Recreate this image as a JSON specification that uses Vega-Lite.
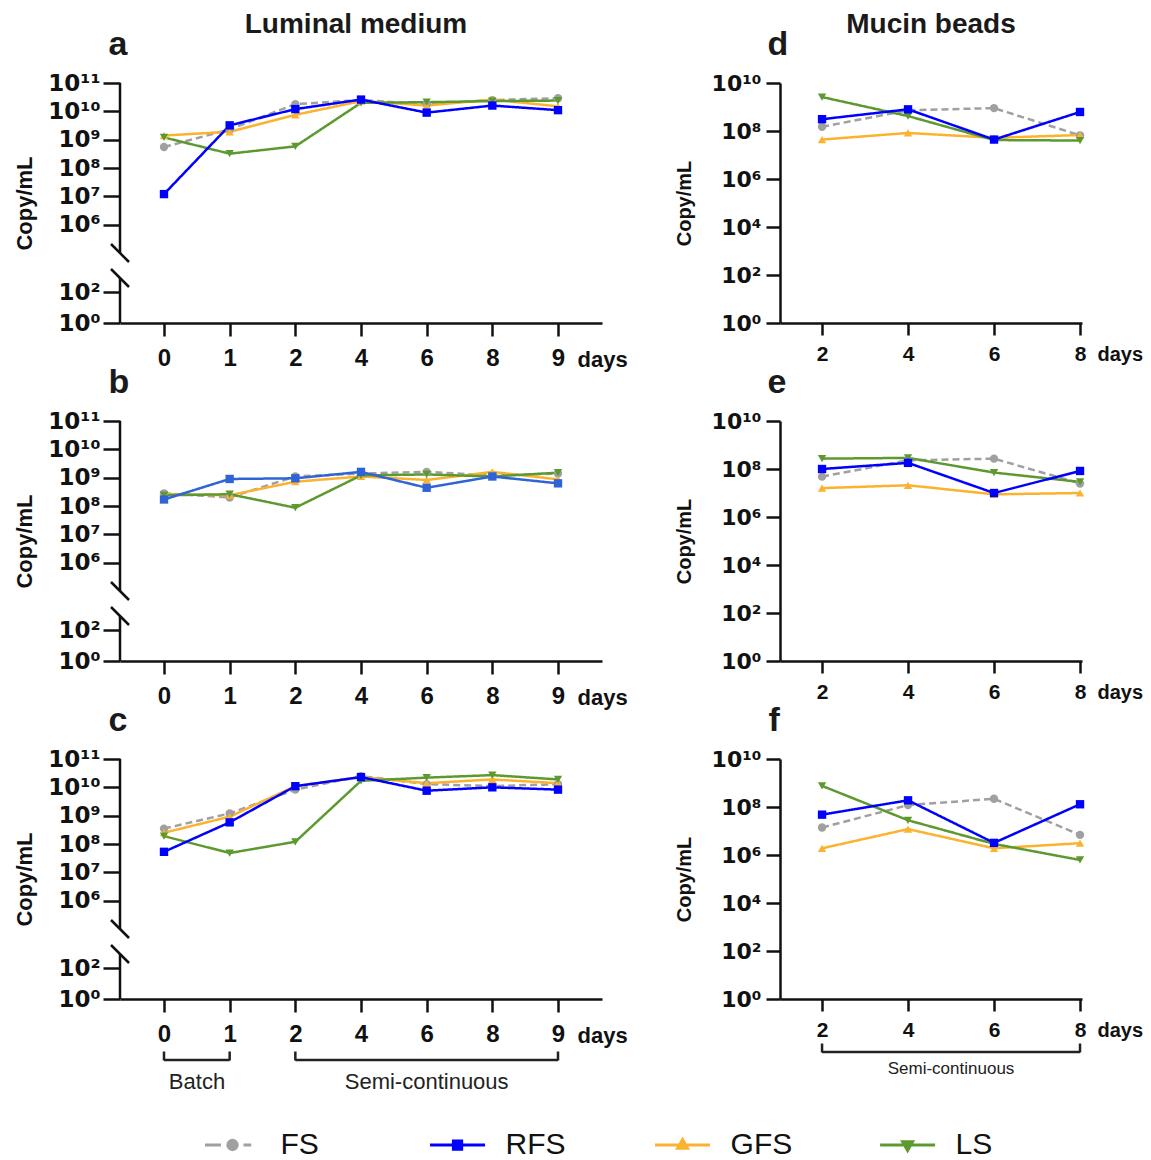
{
  "$schema": "https://vega.github.io/schema/vega-lite/v6.json",
  "padding": {"left": 12, "top": 11, "right": 5, "bottom": 5},
  "background": "white",
  "config": {
    "view": {"stroke": null},
    "font": "Liberation Sans",
    "axis": {"grid": false, "domainColor": "#111111", "tickColor": "#111111", "labelColor": "#111111", "titleColor": "#111111"},
    "title": {"color": "#1a1a1a", "fontWeight": "bold", "font": "Liberation Sans"}
  },
  "datasets": {
    "lum": [
      {"panel":"a","series":"FS","day":"0","value":550000000},{"panel":"a","series":"FS","day":"1","value":2300000000},{"panel":"a","series":"FS","day":"2","value":18000000000},{"panel":"a","series":"FS","day":"4","value":25000000000},{"panel":"a","series":"FS","day":"6","value":18000000000},{"panel":"a","series":"FS","day":"8","value":25000000000},{"panel":"a","series":"FS","day":"9","value":29000000000},
      {"panel":"a","series":"GFS","day":"0","value":1400000000},{"panel":"a","series":"GFS","day":"1","value":1900000000},{"panel":"a","series":"GFS","day":"2","value":7500000000},{"panel":"a","series":"GFS","day":"4","value":23000000000},{"panel":"a","series":"GFS","day":"6","value":16000000000},{"panel":"a","series":"GFS","day":"8","value":26000000000},{"panel":"a","series":"GFS","day":"9","value":15000000000},
      {"panel":"a","series":"LS","day":"0","value":1200000000},{"panel":"a","series":"LS","day":"1","value":320000000},{"panel":"a","series":"LS","day":"2","value":580000000},{"panel":"a","series":"LS","day":"4","value":20000000000},{"panel":"a","series":"LS","day":"6","value":21000000000},{"panel":"a","series":"LS","day":"8","value":23000000000},{"panel":"a","series":"LS","day":"9","value":24000000000},
      {"panel":"a","series":"RFS","day":"0","value":12000000},{"panel":"a","series":"RFS","day":"1","value":3200000000},{"panel":"a","series":"RFS","day":"2","value":12000000000},{"panel":"a","series":"RFS","day":"4","value":26000000000},{"panel":"a","series":"RFS","day":"6","value":9000000000},{"panel":"a","series":"RFS","day":"8","value":16000000000},{"panel":"a","series":"RFS","day":"9","value":11000000000},
      {"panel":"b","series":"FS","day":"0","value":280000000},{"panel":"b","series":"FS","day":"1","value":200000000},{"panel":"b","series":"FS","day":"2","value":1100000000},{"panel":"b","series":"FS","day":"4","value":1400000000},{"panel":"b","series":"FS","day":"6","value":1600000000},{"panel":"b","series":"FS","day":"8","value":1200000000},{"panel":"b","series":"FS","day":"9","value":1400000000},
      {"panel":"b","series":"GFS","day":"0","value":260000000},{"panel":"b","series":"GFS","day":"1","value":240000000},{"panel":"b","series":"GFS","day":"2","value":720000000},{"panel":"b","series":"GFS","day":"4","value":1100000000},{"panel":"b","series":"GFS","day":"6","value":830000000},{"panel":"b","series":"GFS","day":"8","value":1600000000},{"panel":"b","series":"GFS","day":"9","value":870000000},
      {"panel":"b","series":"LS","day":"0","value":240000000},{"panel":"b","series":"LS","day":"1","value":260000000},{"panel":"b","series":"LS","day":"2","value":87000000},{"panel":"b","series":"LS","day":"4","value":1200000000},{"panel":"b","series":"LS","day":"6","value":1300000000},{"panel":"b","series":"LS","day":"8","value":1100000000},{"panel":"b","series":"LS","day":"9","value":1500000000},
      {"panel":"b","series":"RFS","day":"0","value":170000000},{"panel":"b","series":"RFS","day":"1","value":900000000},{"panel":"b","series":"RFS","day":"2","value":950000000},{"panel":"b","series":"RFS","day":"4","value":1600000000},{"panel":"b","series":"RFS","day":"6","value":440000000},{"panel":"b","series":"RFS","day":"8","value":1100000000},{"panel":"b","series":"RFS","day":"9","value":630000000},
      {"panel":"c","series":"FS","day":"0","value":350000000},{"panel":"c","series":"FS","day":"1","value":1200000000},{"panel":"c","series":"FS","day":"2","value":8300000000},{"panel":"c","series":"FS","day":"4","value":25000000000},{"panel":"c","series":"FS","day":"6","value":13000000000},{"panel":"c","series":"FS","day":"8","value":11000000000},{"panel":"c","series":"FS","day":"9","value":13000000000},
      {"panel":"c","series":"GFS","day":"0","value":250000000},{"panel":"c","series":"GFS","day":"1","value":920000000},{"panel":"c","series":"GFS","day":"2","value":11000000000},{"panel":"c","series":"GFS","day":"4","value":23000000000},{"panel":"c","series":"GFS","day":"6","value":14000000000},{"panel":"c","series":"GFS","day":"8","value":19000000000},{"panel":"c","series":"GFS","day":"9","value":14000000000},
      {"panel":"c","series":"LS","day":"0","value":190000000},{"panel":"c","series":"LS","day":"1","value":48000000},{"panel":"c","series":"LS","day":"2","value":120000000},{"panel":"c","series":"LS","day":"4","value":17000000000},{"panel":"c","series":"LS","day":"6","value":22000000000},{"panel":"c","series":"LS","day":"8","value":27000000000},{"panel":"c","series":"LS","day":"9","value":19000000000},
      {"panel":"c","series":"RFS","day":"0","value":53000000},{"panel":"c","series":"RFS","day":"1","value":580000000},{"panel":"c","series":"RFS","day":"2","value":11000000000},{"panel":"c","series":"RFS","day":"4","value":23000000000},{"panel":"c","series":"RFS","day":"6","value":7600000000},{"panel":"c","series":"RFS","day":"8","value":10000000000},{"panel":"c","series":"RFS","day":"9","value":8300000000}
    ],
    "muc": [
      {"panel":"d","series":"FS","day":"2","value":150000000},{"panel":"d","series":"FS","day":"4","value":730000000},{"panel":"d","series":"FS","day":"6","value":900000000},{"panel":"d","series":"FS","day":"8","value":66000000},
      {"panel":"d","series":"GFS","day":"2","value":44000000},{"panel":"d","series":"GFS","day":"4","value":83000000},{"panel":"d","series":"GFS","day":"6","value":52000000},{"panel":"d","series":"GFS","day":"8","value":68000000},
      {"panel":"d","series":"LS","day":"2","value":2600000000},{"panel":"d","series":"LS","day":"4","value":420000000},{"panel":"d","series":"LS","day":"6","value":42000000},{"panel":"d","series":"LS","day":"8","value":40000000},
      {"panel":"d","series":"RFS","day":"2","value":310000000},{"panel":"d","series":"RFS","day":"4","value":800000000},{"panel":"d","series":"RFS","day":"6","value":44000000},{"panel":"d","series":"RFS","day":"8","value":620000000},
      {"panel":"e","series":"FS","day":"2","value":48000000},{"panel":"e","series":"FS","day":"4","value":230000000},{"panel":"e","series":"FS","day":"6","value":270000000},{"panel":"e","series":"FS","day":"8","value":25000000},
      {"panel":"e","series":"GFS","day":"2","value":16000000},{"panel":"e","series":"GFS","day":"4","value":21000000},{"panel":"e","series":"GFS","day":"6","value":8800000},{"panel":"e","series":"GFS","day":"8","value":10000000},
      {"panel":"e","series":"LS","day":"2","value":270000000},{"panel":"e","series":"LS","day":"4","value":290000000},{"panel":"e","series":"LS","day":"6","value":71000000},{"panel":"e","series":"LS","day":"8","value":29000000},
      {"panel":"e","series":"RFS","day":"2","value":100000000},{"panel":"e","series":"RFS","day":"4","value":180000000},{"panel":"e","series":"RFS","day":"6","value":10000000},{"panel":"e","series":"RFS","day":"8","value":83000000},
      {"panel":"f","series":"FS","day":"2","value":14000000},{"panel":"f","series":"FS","day":"4","value":120000000},{"panel":"f","series":"FS","day":"6","value":220000000},{"panel":"f","series":"FS","day":"8","value":6900000},
      {"panel":"f","series":"GFS","day":"2","value":1900000},{"panel":"f","series":"GFS","day":"4","value":12000000},{"panel":"f","series":"GFS","day":"6","value":1900000},{"panel":"f","series":"GFS","day":"8","value":3100000},
      {"panel":"f","series":"LS","day":"2","value":760000000},{"panel":"f","series":"LS","day":"4","value":28000000},{"panel":"f","series":"LS","day":"6","value":2900000},{"panel":"f","series":"LS","day":"8","value":620000},
      {"panel":"f","series":"RFS","day":"2","value":48000000},{"panel":"f","series":"RFS","day":"4","value":190000000},{"panel":"f","series":"RFS","day":"6","value":3200000},{"panel":"f","series":"RFS","day":"8","value":130000000}
    ],
    "axisline": [{"pos": 0, "lo": 100000, "hi": 100000000000}, {"pos": 0, "lo": 1, "hi": 851}],
    "breaks": [{"pos": 0, "value": 100000}, {"pos": 0, "value": 851}]
  },
  "columns": 2,
  "bounds": "flush",
  "align": "each",
  "spacing": {"row": 98, "column": 178},
  "resolve": {"scale": {"color": "independent"}},
  "concat": [
    {
      "width": 482, "height": 240,
      "title": {"text": "Luminal medium", "anchor": "middle", "frame": "group", "fontSize": 28, "dx": -5, "offset": -34, "baseline": "alphabetic"},
      "layer": [
        {"data": {"name": "lum"}, "transform": [{"filter": "datum.panel == 'a'"}], "mark": {"type": "line", "strokeWidth": 2.5},
         "encoding": {
           "x": {"field": "day", "type": "ordinal", "scale": {"type": "point", "domain": ["0","1","2","4","6","8","9"], "padding": 0.67},
                 "axis": {"title": "days", "titleX": 457, "titleY": 43, "titleAlign": "left", "titleBaseline": "alphabetic", "titleFontSize": 22, "titleFontWeight": "bold", "labelFontSize": 24, "labelFontWeight": "bold", "labelAngle": 0, "labelPadding": 10, "tickSize": 13, "tickWidth": 2.5, "domainWidth": 2.5}},
           "y": {"field": "value", "type": "quantitative", "title": "Copy/mL", "scale": {"type": "log", "domain": [1, 851, 100000, 100000000000], "range": [240, 195, 170, 0], "nice": false},
                 "axis": {"values": [1, 100, 1000000,10000000,100000000,1000000000,10000000000,100000000000], "labelExpr": "datum.value > 50000000000 ? '10¹¹' : datum.value > 5000000000 ? '10¹⁰' : datum.value > 500000000 ? '10⁹' : datum.value > 50000000 ? '10⁸' : datum.value > 5000000 ? '10⁷' : datum.value > 500000 ? '10⁶' : datum.value > 50 ? '10²' : '10⁰'", "domain": false, "labelFont": "DejaVu Sans", "labelFontSize": 23, "labelFontWeight": "bold", "labelPadding": 3, "labelOverlap": false, "labelFlush": false, "tickSize": 17, "tickWidth": 2.5, "title": "Copy/mL", "titleFontSize": 22, "titleFontWeight": "bold", "titleX": -96, "titleY": 120, "titleAngle": -90, "titleAlign": "center", "titleBaseline": "middle"}},
           "color": {"field": "series", "type": "nominal", "scale": {"domain": ["FS","RFS","GFS","LS"], "range": ["#A0A0A0","#0000FF","#FBB22E","#5C9A2F"]}, "legend": null},
           "strokeDash": {"field": "series", "type": "nominal", "scale": {"domain": ["FS","RFS","GFS","LS"], "range": [[7,4],[1,0],[1,0],[1,0]]}, "legend": null}
         }},
        {"data": {"name": "lum"}, "transform": [{"filter": "datum.panel == 'a'"}], "mark": {"type": "point", "filled": true, "size": 70, "opacity": 1},
         "encoding": {
           "x": {"field": "day", "type": "ordinal", "scale": {"type": "point", "domain": ["0","1","2","4","6","8","9"], "padding": 0.67}, "axis": null},
           "y": {"field": "value", "type": "quantitative", "title": "Copy/mL"},
           "color": {"field": "series", "type": "nominal", "scale": {"domain": ["FS","RFS","GFS","LS"], "range": ["#A0A0A0","#0000FF","#FBB22E","#5C9A2F"]}, "legend": null},
           "shape": {"field": "series", "type": "nominal", "scale": {"domain": ["FS","RFS","GFS","LS"], "range": ["circle","square","triangle-up","triangle-down"]}, "legend": null}
         }},
        {"data": {"name": "axisline"}, "mark": {"type": "rule", "strokeWidth": 2.5, "color": "#111111"},
         "encoding": {
           "x": {"field": "pos", "type": "quantitative", "scale": {"domain": [0, 1], "nice": false, "zero": false},
                 "axis": {"orient": "top", "domain": false, "ticks": false, "labels": false, "title": "a", "titleX": -12, "titleY": -29, "titleAlign": "left", "titleBaseline": "alphabetic", "titleAngle": 0, "titleFontSize": 34, "titleFontWeight": "bold", "titleColor": "#1a1a1a"}},
           "y": {"field": "lo", "type": "quantitative", "title": "Copy/mL"}, "y2": {"field": "hi"}
         }},
        {"data": {"name": "breaks"}, "mark": {"type": "point", "shape": "M-1,-1L1,1", "filled": false, "size": 324, "color": "#111111", "strokeWidth": 2.5, "opacity": 1},
         "encoding": {"x": {"field": "pos", "type": "quantitative", "scale": {"domain": [0, 1], "nice": false, "zero": false}, "axis": null}, "y": {"field": "value", "type": "quantitative", "title": "Copy/mL"}}}
      ],
      "resolve": {"scale": {"x": "independent"}, "axis": {"x": "independent"}}
    },
    {
      "width": 302, "height": 240,
      "title": {"text": "Mucin beads", "anchor": "middle", "frame": "group", "fontSize": 28, "offset": -34, "baseline": "alphabetic"},
      "layer": [
        {"data": {"name": "muc"}, "transform": [{"filter": "datum.panel == 'd'"}], "mark": {"type": "line", "strokeWidth": 2.5},
         "encoding": {
           "x": {"field": "day", "type": "ordinal", "scale": {"type": "point", "domain": ["2","4","6","8"], "padding": 0.256, "align": 0.955},
                 "axis": {"title": "days", "titleX": 317, "titleY": 37, "titleAlign": "left", "titleBaseline": "alphabetic", "titleFontSize": 20, "titleFontWeight": "bold", "labelFontSize": 21, "labelFontWeight": "bold", "labelAngle": 0, "labelPadding": 8, "tickSize": 12, "tickWidth": 2.5, "domainWidth": 2.5}},
           "y": {"field": "value", "type": "quantitative", "title": "Copy/mL", "scale": {"type": "log", "domain": [1, 10000000000], "nice": false},
                 "axis": {"values": [1,100,10000,1000000,100000000,10000000000], "labelExpr": "datum.value > 5000000000 ? '10¹⁰' : datum.value > 50000000 ? '10⁸' : datum.value > 500000 ? '10⁶' : datum.value > 5000 ? '10⁴' : datum.value > 50 ? '10²' : '10⁰'", "labelFont": "DejaVu Sans", "labelFontSize": 22, "labelFontWeight": "bold", "labelPadding": 5, "labelOverlap": false, "labelFlush": false, "tickSize": 14, "tickWidth": 2.5, "domainWidth": 2.5, "title": "Copy/mL", "titleFontSize": 20, "titleFontWeight": "bold", "titleX": -96, "titleY": 120, "titleAngle": -90, "titleAlign": "center", "titleBaseline": "middle"}},
           "color": {"field": "series", "type": "nominal", "scale": {"domain": ["FS","RFS","GFS","LS"], "range": ["#A0A0A0","#0000FF","#FBB22E","#5C9A2F"]}, "legend": null},
           "strokeDash": {"field": "series", "type": "nominal", "scale": {"domain": ["FS","RFS","GFS","LS"], "range": [[7,4],[1,0],[1,0],[1,0]]}, "legend": null}
         }},
        {"data": {"name": "muc"}, "transform": [{"filter": "datum.panel == 'd'"}], "mark": {"type": "point", "filled": true, "size": 70, "opacity": 1},
         "encoding": {
           "x": {"field": "day", "type": "ordinal", "scale": {"type": "point", "domain": ["2","4","6","8"], "padding": 0.256, "align": 0.955}, "axis": null},
           "y": {"field": "value", "type": "quantitative", "title": "Copy/mL"},
           "color": {"field": "series", "type": "nominal", "scale": {"domain": ["FS","RFS","GFS","LS"], "range": ["#A0A0A0","#0000FF","#FBB22E","#5C9A2F"]}, "legend": null},
           "shape": {"field": "series", "type": "nominal", "scale": {"domain": ["FS","RFS","GFS","LS"], "range": ["circle","square","triangle-up","triangle-down"]}, "legend": null}
         }},
        {"data": {"values": [{"pos": 0}]}, "mark": {"type": "point", "opacity": 0},
         "encoding": {"x": {"field": "pos", "type": "quantitative", "scale": {"domain": [0, 1], "nice": false, "zero": false},
                 "axis": {"orient": "top", "domain": false, "ticks": false, "labels": false, "title": "d", "titleX": -13, "titleY": -29, "titleAlign": "left", "titleBaseline": "alphabetic", "titleAngle": 0, "titleFontSize": 34, "titleFontWeight": "bold", "titleColor": "#1a1a1a"}}}}
      ],
      "resolve": {"scale": {"x": "independent"}, "axis": {"x": "independent"}}
    },
    {
      "width": 482, "height": 240,
      "layer": [
        {"data": {"name": "lum"}, "transform": [{"filter": "datum.panel == 'b'"}], "mark": {"type": "line", "strokeWidth": 2.5},
         "encoding": {
           "x": {"field": "day", "type": "ordinal", "scale": {"type": "point", "domain": ["0","1","2","4","6","8","9"], "padding": 0.67},
                 "axis": {"title": "days", "titleX": 457, "titleY": 43, "titleAlign": "left", "titleBaseline": "alphabetic", "titleFontSize": 22, "titleFontWeight": "bold", "labelFontSize": 24, "labelFontWeight": "bold", "labelAngle": 0, "labelPadding": 10, "tickSize": 13, "tickWidth": 2.5, "domainWidth": 2.5}},
           "y": {"field": "value", "type": "quantitative", "title": "Copy/mL", "scale": {"type": "log", "domain": [1, 851, 100000, 100000000000], "range": [240, 195, 170, 0], "nice": false},
                 "axis": {"values": [1, 100, 1000000,10000000,100000000,1000000000,10000000000,100000000000], "labelExpr": "datum.value > 50000000000 ? '10¹¹' : datum.value > 5000000000 ? '10¹⁰' : datum.value > 500000000 ? '10⁹' : datum.value > 50000000 ? '10⁸' : datum.value > 5000000 ? '10⁷' : datum.value > 500000 ? '10⁶' : datum.value > 50 ? '10²' : '10⁰'", "domain": false, "labelFont": "DejaVu Sans", "labelFontSize": 23, "labelFontWeight": "bold", "labelPadding": 3, "labelOverlap": false, "labelFlush": false, "tickSize": 17, "tickWidth": 2.5, "title": "Copy/mL", "titleFontSize": 22, "titleFontWeight": "bold", "titleX": -96, "titleY": 120, "titleAngle": -90, "titleAlign": "center", "titleBaseline": "middle"}},
           "color": {"field": "series", "type": "nominal", "scale": {"domain": ["FS","RFS","GFS","LS"], "range": ["#A0A0A0","#2F64D6","#FBB22E","#5C9A2F"]}, "legend": null},
           "strokeDash": {"field": "series", "type": "nominal", "scale": {"domain": ["FS","RFS","GFS","LS"], "range": [[7,4],[1,0],[1,0],[1,0]]}, "legend": null}
         }},
        {"data": {"name": "lum"}, "transform": [{"filter": "datum.panel == 'b'"}], "mark": {"type": "point", "filled": true, "size": 70, "opacity": 1},
         "encoding": {
           "x": {"field": "day", "type": "ordinal", "scale": {"type": "point", "domain": ["0","1","2","4","6","8","9"], "padding": 0.67}, "axis": null},
           "y": {"field": "value", "type": "quantitative", "title": "Copy/mL"},
           "color": {"field": "series", "type": "nominal", "scale": {"domain": ["FS","RFS","GFS","LS"], "range": ["#A0A0A0","#2F64D6","#FBB22E","#5C9A2F"]}, "legend": null},
           "shape": {"field": "series", "type": "nominal", "scale": {"domain": ["FS","RFS","GFS","LS"], "range": ["circle","square","triangle-up","triangle-down"]}, "legend": null}
         }},
        {"data": {"name": "axisline"}, "mark": {"type": "rule", "strokeWidth": 2.5, "color": "#111111"},
         "encoding": {
           "x": {"field": "pos", "type": "quantitative", "scale": {"domain": [0, 1], "nice": false, "zero": false},
                 "axis": {"orient": "top", "domain": false, "ticks": false, "labels": false, "title": "b", "titleX": -12, "titleY": -29, "titleAlign": "left", "titleBaseline": "alphabetic", "titleAngle": 0, "titleFontSize": 34, "titleFontWeight": "bold", "titleColor": "#1a1a1a"}},
           "y": {"field": "lo", "type": "quantitative", "title": "Copy/mL"}, "y2": {"field": "hi"}
         }},
        {"data": {"name": "breaks"}, "mark": {"type": "point", "shape": "M-1,-1L1,1", "filled": false, "size": 324, "color": "#111111", "strokeWidth": 2.5, "opacity": 1},
         "encoding": {"x": {"field": "pos", "type": "quantitative", "scale": {"domain": [0, 1], "nice": false, "zero": false}, "axis": null}, "y": {"field": "value", "type": "quantitative", "title": "Copy/mL"}}}
      ],
      "resolve": {"scale": {"x": "independent"}, "axis": {"x": "independent"}}
    },
    {
      "width": 302, "height": 240,
      "layer": [
        {"data": {"name": "muc"}, "transform": [{"filter": "datum.panel == 'e'"}], "mark": {"type": "line", "strokeWidth": 2.5},
         "encoding": {
           "x": {"field": "day", "type": "ordinal", "scale": {"type": "point", "domain": ["2","4","6","8"], "padding": 0.256, "align": 0.955},
                 "axis": {"title": "days", "titleX": 317, "titleY": 37, "titleAlign": "left", "titleBaseline": "alphabetic", "titleFontSize": 20, "titleFontWeight": "bold", "labelFontSize": 21, "labelFontWeight": "bold", "labelAngle": 0, "labelPadding": 8, "tickSize": 12, "tickWidth": 2.5, "domainWidth": 2.5}},
           "y": {"field": "value", "type": "quantitative", "title": "Copy/mL", "scale": {"type": "log", "domain": [1, 10000000000], "nice": false},
                 "axis": {"values": [1,100,10000,1000000,100000000,10000000000], "labelExpr": "datum.value > 5000000000 ? '10¹⁰' : datum.value > 50000000 ? '10⁸' : datum.value > 500000 ? '10⁶' : datum.value > 5000 ? '10⁴' : datum.value > 50 ? '10²' : '10⁰'", "labelFont": "DejaVu Sans", "labelFontSize": 22, "labelFontWeight": "bold", "labelPadding": 5, "labelOverlap": false, "labelFlush": false, "tickSize": 14, "tickWidth": 2.5, "domainWidth": 2.5, "title": "Copy/mL", "titleFontSize": 20, "titleFontWeight": "bold", "titleX": -96, "titleY": 120, "titleAngle": -90, "titleAlign": "center", "titleBaseline": "middle"}},
           "color": {"field": "series", "type": "nominal", "scale": {"domain": ["FS","RFS","GFS","LS"], "range": ["#A0A0A0","#0000FF","#FBB22E","#5C9A2F"]}, "legend": null},
           "strokeDash": {"field": "series", "type": "nominal", "scale": {"domain": ["FS","RFS","GFS","LS"], "range": [[7,4],[1,0],[1,0],[1,0]]}, "legend": null}
         }},
        {"data": {"name": "muc"}, "transform": [{"filter": "datum.panel == 'e'"}], "mark": {"type": "point", "filled": true, "size": 70, "opacity": 1},
         "encoding": {
           "x": {"field": "day", "type": "ordinal", "scale": {"type": "point", "domain": ["2","4","6","8"], "padding": 0.256, "align": 0.955}, "axis": null},
           "y": {"field": "value", "type": "quantitative", "title": "Copy/mL"},
           "color": {"field": "series", "type": "nominal", "scale": {"domain": ["FS","RFS","GFS","LS"], "range": ["#A0A0A0","#0000FF","#FBB22E","#5C9A2F"]}, "legend": null},
           "shape": {"field": "series", "type": "nominal", "scale": {"domain": ["FS","RFS","GFS","LS"], "range": ["circle","square","triangle-up","triangle-down"]}, "legend": null}
         }},
        {"data": {"values": [{"pos": 0}]}, "mark": {"type": "point", "opacity": 0},
         "encoding": {"x": {"field": "pos", "type": "quantitative", "scale": {"domain": [0, 1], "nice": false, "zero": false},
                 "axis": {"orient": "top", "domain": false, "ticks": false, "labels": false, "title": "e", "titleX": -13, "titleY": -29, "titleAlign": "left", "titleBaseline": "alphabetic", "titleAngle": 0, "titleFontSize": 34, "titleFontWeight": "bold", "titleColor": "#1a1a1a"}}}}
      ],
      "resolve": {"scale": {"x": "independent"}, "axis": {"x": "independent"}}
    },
    {
      "width": 482, "height": 240,
      "layer": [
        {"data": {"name": "lum"}, "transform": [{"filter": "datum.panel == 'c'"}], "mark": {"type": "line", "strokeWidth": 2.5},
         "encoding": {
           "x": {"field": "day", "type": "ordinal", "scale": {"type": "point", "domain": ["0","1","2","4","6","8","9"], "padding": 0.67},
                 "axis": {"title": "days", "titleX": 457, "titleY": 43, "titleAlign": "left", "titleBaseline": "alphabetic", "titleFontSize": 22, "titleFontWeight": "bold", "labelFontSize": 24, "labelFontWeight": "bold", "labelAngle": 0, "labelPadding": 10, "tickSize": 13, "tickWidth": 2.5, "domainWidth": 2.5}},
           "y": {"field": "value", "type": "quantitative", "title": "Copy/mL", "scale": {"type": "log", "domain": [1, 851, 100000, 100000000000], "range": [240, 195, 170, 0], "nice": false},
                 "axis": {"values": [1, 100, 1000000,10000000,100000000,1000000000,10000000000,100000000000], "labelExpr": "datum.value > 50000000000 ? '10¹¹' : datum.value > 5000000000 ? '10¹⁰' : datum.value > 500000000 ? '10⁹' : datum.value > 50000000 ? '10⁸' : datum.value > 5000000 ? '10⁷' : datum.value > 500000 ? '10⁶' : datum.value > 50 ? '10²' : '10⁰'", "domain": false, "labelFont": "DejaVu Sans", "labelFontSize": 23, "labelFontWeight": "bold", "labelPadding": 3, "labelOverlap": false, "labelFlush": false, "tickSize": 17, "tickWidth": 2.5, "title": "Copy/mL", "titleFontSize": 22, "titleFontWeight": "bold", "titleX": -96, "titleY": 120, "titleAngle": -90, "titleAlign": "center", "titleBaseline": "middle"}},
           "color": {"field": "series", "type": "nominal", "scale": {"domain": ["FS","RFS","GFS","LS"], "range": ["#A0A0A0","#0000FF","#FBB22E","#5C9A2F"]}, "legend": null},
           "strokeDash": {"field": "series", "type": "nominal", "scale": {"domain": ["FS","RFS","GFS","LS"], "range": [[7,4],[1,0],[1,0],[1,0]]}, "legend": null}
         }},
        {"data": {"name": "lum"}, "transform": [{"filter": "datum.panel == 'c'"}], "mark": {"type": "point", "filled": true, "size": 70, "opacity": 1},
         "encoding": {
           "x": {"field": "day", "type": "ordinal", "scale": {"type": "point", "domain": ["0","1","2","4","6","8","9"], "padding": 0.67}, "axis": null},
           "y": {"field": "value", "type": "quantitative", "title": "Copy/mL"},
           "color": {"field": "series", "type": "nominal", "scale": {"domain": ["FS","RFS","GFS","LS"], "range": ["#A0A0A0","#0000FF","#FBB22E","#5C9A2F"]}, "legend": null},
           "shape": {"field": "series", "type": "nominal", "scale": {"domain": ["FS","RFS","GFS","LS"], "range": ["circle","square","triangle-up","triangle-down"]}, "legend": null}
         }},
        {"data": {"name": "axisline"}, "mark": {"type": "rule", "strokeWidth": 2.5, "color": "#111111"},
         "encoding": {
           "x": {"field": "pos", "type": "quantitative", "scale": {"domain": [0, 1], "nice": false, "zero": false},
                 "axis": {"orient": "top", "domain": false, "ticks": false, "labels": false, "title": "c", "titleX": -12, "titleY": -29, "titleAlign": "left", "titleBaseline": "alphabetic", "titleAngle": 0, "titleFontSize": 34, "titleFontWeight": "bold", "titleColor": "#1a1a1a"}},
           "y": {"field": "lo", "type": "quantitative", "title": "Copy/mL"}, "y2": {"field": "hi"}
         }},
        {"data": {"name": "breaks"}, "mark": {"type": "point", "shape": "M-1,-1L1,1", "filled": false, "size": 324, "color": "#111111", "strokeWidth": 2.5, "opacity": 1},
         "encoding": {"x": {"field": "pos", "type": "quantitative", "scale": {"domain": [0, 1], "nice": false, "zero": false}, "axis": null}, "y": {"field": "value", "type": "quantitative", "title": "Copy/mL"}}},
        {"data": {"values": [{"start": "0", "end": "1"}, {"start": "2", "end": "9"}]}, "mark": {"type": "rule", "strokeWidth": 2.5, "color": "#222222", "yOffset": 61},
         "encoding": {"x": {"field": "start", "type": "ordinal", "scale": {"type": "point", "domain": ["0","1","2","4","6","8","9"], "padding": 0.67}, "axis": null}, "x2": {"field": "end"}, "y": {"datum": 1, "type": "quantitative"}}},
        {"data": {"values": [{"start": "0", "end": "1"}, {"start": "2", "end": "9"}]}, "mark": {"type": "tick", "orient": "vertical", "size": 9, "thickness": 2.5, "yOffset": 57, "color": "#222222", "opacity": 1},
         "encoding": {"x": {"field": "start", "type": "ordinal", "scale": {"type": "point", "domain": ["0","1","2","4","6","8","9"], "padding": 0.67}, "axis": null}, "y": {"datum": 1, "type": "quantitative"}}},
        {"data": {"values": [{"start": "0", "end": "1"}, {"start": "2", "end": "9"}]}, "mark": {"type": "tick", "orient": "vertical", "size": 9, "thickness": 2.5, "yOffset": 57, "color": "#222222", "opacity": 1},
         "encoding": {"x": {"field": "end", "type": "ordinal", "scale": {"type": "point", "domain": ["0","1","2","4","6","8","9"], "padding": 0.67}, "axis": null}, "y": {"datum": 1, "type": "quantitative"}}},
        {"data": {"values": [{"day": "0", "label": "Batch"}]}, "mark": {"type": "text", "dx": 33, "dy": 83, "fontSize": 22, "color": "#222222"},
         "encoding": {"x": {"field": "day", "type": "ordinal", "scale": {"type": "point", "domain": ["0","1","2","4","6","8","9"], "padding": 0.67}, "axis": null}, "y": {"datum": 1, "type": "quantitative"}, "text": {"field": "label"}}},
        {"data": {"values": [{"day": "6", "label": "Semi-continuous"}]}, "mark": {"type": "text", "dy": 83, "fontSize": 22, "color": "#222222"},
         "encoding": {"x": {"field": "day", "type": "ordinal", "scale": {"type": "point", "domain": ["0","1","2","4","6","8","9"], "padding": 0.67}, "axis": null}, "y": {"datum": 1, "type": "quantitative"}, "text": {"field": "label"}}}
      ],
      "resolve": {"scale": {"x": "independent"}, "axis": {"x": "independent"}}
    },
    {
      "width": 302, "height": 240,
      "layer": [
        {"data": {"name": "muc"}, "transform": [{"filter": "datum.panel == 'f'"}], "mark": {"type": "line", "strokeWidth": 2.5},
         "encoding": {
           "x": {"field": "day", "type": "ordinal", "scale": {"type": "point", "domain": ["2","4","6","8"], "padding": 0.256, "align": 0.955},
                 "axis": {"title": "days", "titleX": 317, "titleY": 37, "titleAlign": "left", "titleBaseline": "alphabetic", "titleFontSize": 20, "titleFontWeight": "bold", "labelFontSize": 21, "labelFontWeight": "bold", "labelAngle": 0, "labelPadding": 8, "tickSize": 12, "tickWidth": 2.5, "domainWidth": 2.5}},
           "y": {"field": "value", "type": "quantitative", "title": "Copy/mL", "scale": {"type": "log", "domain": [1, 10000000000], "nice": false},
                 "axis": {"values": [1,100,10000,1000000,100000000,10000000000], "labelExpr": "datum.value > 5000000000 ? '10¹⁰' : datum.value > 50000000 ? '10⁸' : datum.value > 500000 ? '10⁶' : datum.value > 5000 ? '10⁴' : datum.value > 50 ? '10²' : '10⁰'", "labelFont": "DejaVu Sans", "labelFontSize": 22, "labelFontWeight": "bold", "labelPadding": 5, "labelOverlap": false, "labelFlush": false, "tickSize": 14, "tickWidth": 2.5, "domainWidth": 2.5, "title": "Copy/mL", "titleFontSize": 20, "titleFontWeight": "bold", "titleX": -96, "titleY": 120, "titleAngle": -90, "titleAlign": "center", "titleBaseline": "middle"}},
           "color": {"field": "series", "type": "nominal", "scale": {"domain": ["FS","RFS","GFS","LS"], "range": ["#A0A0A0","#0000FF","#FBB22E","#5C9A2F"]}, "legend": null},
           "strokeDash": {"field": "series", "type": "nominal", "scale": {"domain": ["FS","RFS","GFS","LS"], "range": [[7,4],[1,0],[1,0],[1,0]]}, "legend": null}
         }},
        {"data": {"name": "muc"}, "transform": [{"filter": "datum.panel == 'f'"}], "mark": {"type": "point", "filled": true, "size": 70, "opacity": 1},
         "encoding": {
           "x": {"field": "day", "type": "ordinal", "scale": {"type": "point", "domain": ["2","4","6","8"], "padding": 0.256, "align": 0.955}, "axis": null},
           "y": {"field": "value", "type": "quantitative", "title": "Copy/mL"},
           "color": {"field": "series", "type": "nominal", "scale": {"domain": ["FS","RFS","GFS","LS"], "range": ["#A0A0A0","#0000FF","#FBB22E","#5C9A2F"]}, "legend": null},
           "shape": {"field": "series", "type": "nominal", "scale": {"domain": ["FS","RFS","GFS","LS"], "range": ["circle","square","triangle-up","triangle-down"]}, "legend": null}
         }},
        {"data": {"values": [{"pos": 0}]}, "mark": {"type": "point", "opacity": 0},
         "encoding": {"x": {"field": "pos", "type": "quantitative", "scale": {"domain": [0, 1], "nice": false, "zero": false},
                 "axis": {"orient": "top", "domain": false, "ticks": false, "labels": false, "title": "f", "titleX": -12, "titleY": -29, "titleAlign": "left", "titleBaseline": "alphabetic", "titleAngle": 0, "titleFontSize": 34, "titleFontWeight": "bold", "titleColor": "#1a1a1a"}}}},
        {"data": {"values": [{"start": "2", "end": "8"}]}, "mark": {"type": "rule", "strokeWidth": 2.5, "color": "#222222", "yOffset": 53},
         "encoding": {"x": {"field": "start", "type": "ordinal", "scale": {"type": "point", "domain": ["2","4","6","8"], "padding": 0.256, "align": 0.955}, "axis": null}, "x2": {"field": "end"}, "y": {"datum": 1, "type": "quantitative"}}},
        {"data": {"values": [{"start": "2", "end": "8"}]}, "mark": {"type": "tick", "orient": "vertical", "size": 9, "thickness": 2.5, "yOffset": 49, "color": "#222222", "opacity": 1},
         "encoding": {"x": {"field": "start", "type": "ordinal", "scale": {"type": "point", "domain": ["2","4","6","8"], "padding": 0.256, "align": 0.955}, "axis": null}, "y": {"datum": 1, "type": "quantitative"}}},
        {"data": {"values": [{"start": "2", "end": "8"}]}, "mark": {"type": "tick", "orient": "vertical", "size": 9, "thickness": 2.5, "yOffset": 49, "color": "#222222", "opacity": 1},
         "encoding": {"x": {"field": "end", "type": "ordinal", "scale": {"type": "point", "domain": ["2","4","6","8"], "padding": 0.256, "align": 0.955}, "axis": null}, "y": {"datum": 1, "type": "quantitative"}}},
        {"data": {"values": [{"day": "4", "label": "Semi-continuous"}]}, "mark": {"type": "text", "dx": 43, "dy": 70, "fontSize": 17, "color": "#222222"},
         "encoding": {"x": {"field": "day", "type": "ordinal", "scale": {"type": "point", "domain": ["2","4","6","8"], "padding": 0.256, "align": 0.955}, "axis": null}, "y": {"datum": 1, "type": "quantitative"}, "text": {"field": "label"}}}
      ],
      "resolve": {"scale": {"x": "independent"}, "axis": {"x": "independent"}}
    },
    {
      "width": 482, "height": 96,
      "data": {"values": [{"name": "FS", "order": 1}, {"name": "RFS", "order": 2}, {"name": "GFS", "order": 3}, {"name": "LS", "order": 4}]},
      "encoding": {"x": {"field": "order", "type": "quantitative", "scale": {"domain": [0.5, 2.642], "nice": false, "zero": false}, "axis": null}},
      "layer": [
        {"transform": [{"filter": "datum.name == 'FS'"}], "mark": {"type": "point", "shape": "M-1,0H-0.42M0.4,0H0.68M0.17,0A0.17,0.17,0,1,1,-0.17,0A0.17,0.17,0,1,1,0.17,0Z", "size": 3025, "filled": true, "fill": "#A0A0A0", "stroke": "#A0A0A0", "strokeWidth": 3, "opacity": 1}},
        {"transform": [{"filter": "datum.name == 'RFS'"}], "mark": {"type": "point", "shape": "M-1,0H1M-0.15,-0.15H0.15V0.15H-0.15Z", "size": 3025, "filled": true, "fill": "#0000FF", "stroke": "#0000FF", "strokeWidth": 3, "opacity": 1}},
        {"transform": [{"filter": "datum.name == 'GFS'"}], "mark": {"type": "point", "shape": "M-1,0H1M0,-0.2L0.18,0.12H-0.18Z", "size": 3025, "filled": true, "fill": "#FBB22E", "stroke": "#FBB22E", "strokeWidth": 3, "opacity": 1}},
        {"transform": [{"filter": "datum.name == 'LS'"}], "mark": {"type": "point", "shape": "M-1,0H1M0,0.2L0.18,-0.12H-0.18Z", "size": 3025, "filled": true, "fill": "#5C9A2F", "stroke": "#5C9A2F", "strokeWidth": 3, "opacity": 1}},
        {"mark": {"type": "text", "align": "left", "dx": 48, "fontSize": 30, "color": "#111111"}, "encoding": {"text": {"field": "name"}}}
      ]
    }
  ]
}
